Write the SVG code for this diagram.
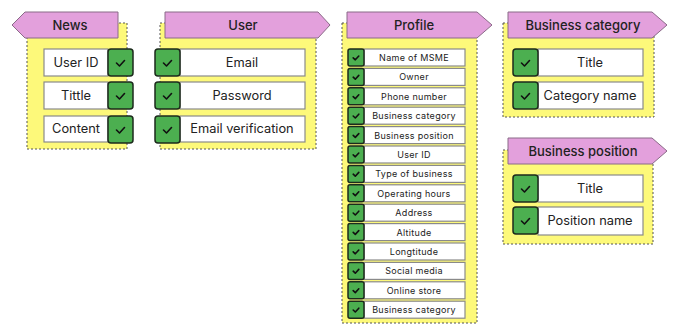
<svg xmlns="http://www.w3.org/2000/svg" width="676" height="325" viewBox="0 0 676 325">
  <defs>
    <style>
      .panel { fill: #fdf97a; stroke: #555; stroke-width: 1; stroke-dasharray: 2 2; }
      .head { fill: #e3a0dc; stroke: #8a6a88; stroke-width: 1; }
      .htxt { font-family: Inter, "Liberation Sans", sans-serif; font-size: 13px; font-weight: 500; fill: #222; text-anchor: middle; }
      .lbl { fill: #fff; stroke: #8a8a8a; stroke-width: 1.2; }
      .ltxt { font-family: Inter, "Liberation Sans", sans-serif; font-size: 12.8px; fill: #222; text-anchor: middle; }
      .stxt { font-family: Inter, "Liberation Sans", sans-serif; font-size: 9px; fill: #222; text-anchor: middle; letter-spacing: 0.3px; }
      .chk { fill: #4caf50; stroke: #1c2a1c; stroke-width: 1.5; }
      .tick { fill: none; stroke: #111; stroke-width: 1.6; stroke-linecap: round; stroke-linejoin: round; }
    </style>
    <!-- check boxes with tick, large and small -->
    <g id="chkL">
      <rect class="chk" x="0" y="0" width="25" height="27" rx="3"/>
      <path class="tick" d="M8.5 14 L11.5 17 L16.5 11.5"/>
    </g>
    <g id="chkS">
      <rect class="chk" x="0" y="0" width="16" height="17" rx="2"/>
      <path class="tick" d="M5.2 8.8 L7.3 10.8 L10.8 7" stroke-width="1.3"/>
    </g>
  </defs>

  <g id="connectors"/>

  <!-- News -->
  <g id="news">
    <rect class="panel" x="27" y="23" width="100" height="126"/>
    <polygon class="head" points="12,25 25,12 118,12 118,38 25,38"/>
    <text class="htxt" x="70" y="30">News</text>
    <rect class="lbl" x="44" y="49" width="64" height="27"/>
    <text class="ltxt" x="76" y="67">User ID</text>
    <use href="#chkL" x="108" y="49"/>
    <rect class="lbl" x="44" y="82" width="64" height="27"/>
    <text class="ltxt" x="76" y="100">Tittle</text>
    <use href="#chkL" x="108" y="82"/>
    <rect class="lbl" x="44" y="116" width="64" height="26"/>
    <text class="ltxt" x="76" y="133">Content</text>
    <use href="#chkL" x="108" y="116"/>
  </g>

  <!-- User -->
  <g id="user">
    <rect class="panel" x="160" y="23" width="156" height="126"/>
    <polygon class="head" points="165,12 318,12 330,25 318,38 165,38"/>
    <text class="htxt" x="243" y="30">User</text>
    <rect class="lbl" x="180" y="49" width="125" height="27"/>
    <text class="ltxt" x="242" y="67">Email</text>
    <use href="#chkL" x="155" y="49"/>
    <rect class="lbl" x="180" y="82" width="125" height="27"/>
    <text class="ltxt" x="242" y="100">Password</text>
    <use href="#chkL" x="155" y="82"/>
    <rect class="lbl" x="180" y="116" width="125" height="26"/>
    <text class="ltxt" x="242" y="133">Email verification</text>
    <use href="#chkL" x="155" y="116"/>
  </g>

  <!-- Profile -->
  <g id="profile">
    <rect class="panel" x="342" y="23" width="135" height="300"/>
    <polygon class="head" points="347,12 477,12 492,25 477,38 347,38"/>
    <text class="htxt" x="414" y="30">Profile</text>
    <g>
      <rect class="lbl" x="364" y="49" width="101" height="17"/><use href="#chkS" x="348" y="49"/>
      <text class="stxt" x="414" y="61">Name of MSME</text>
      <rect class="lbl" x="364" y="68.4" width="101" height="17"/><use href="#chkS" x="348" y="68.4"/>
      <text class="stxt" x="414" y="80.4">Owner</text>
      <rect class="lbl" x="364" y="87.8" width="101" height="17"/><use href="#chkS" x="348" y="87.8"/>
      <text class="stxt" x="414" y="99.8">Phone number</text>
      <rect class="lbl" x="364" y="107.2" width="101" height="17"/><use href="#chkS" x="348" y="107.2"/>
      <text class="stxt" x="414" y="119.2">Business category</text>
      <rect class="lbl" x="364" y="126.6" width="101" height="17"/><use href="#chkS" x="348" y="126.6"/>
      <text class="stxt" x="414" y="138.6">Business position</text>
      <rect class="lbl" x="364" y="146" width="101" height="17"/><use href="#chkS" x="348" y="146"/>
      <text class="stxt" x="414" y="158">User ID</text>
      <rect class="lbl" x="364" y="165.4" width="101" height="17"/><use href="#chkS" x="348" y="165.4"/>
      <text class="stxt" x="414" y="177.4">Type of business</text>
      <rect class="lbl" x="364" y="184.8" width="101" height="17"/><use href="#chkS" x="348" y="184.8"/>
      <text class="stxt" x="414" y="196.8">Operating hours</text>
      <rect class="lbl" x="364" y="204.2" width="101" height="17"/><use href="#chkS" x="348" y="204.2"/>
      <text class="stxt" x="414" y="216.2">Address</text>
      <rect class="lbl" x="364" y="223.6" width="101" height="17"/><use href="#chkS" x="348" y="223.6"/>
      <text class="stxt" x="414" y="235.6">Altitude</text>
      <rect class="lbl" x="364" y="243" width="101" height="17"/><use href="#chkS" x="348" y="243"/>
      <text class="stxt" x="414" y="255">Longtitude</text>
      <rect class="lbl" x="364" y="262.4" width="101" height="17"/><use href="#chkS" x="348" y="262.4"/>
      <text class="stxt" x="414" y="274.4">Social media</text>
      <rect class="lbl" x="364" y="281.8" width="101" height="17"/><use href="#chkS" x="348" y="281.8"/>
      <text class="stxt" x="414" y="293.8">Online store</text>
      <rect class="lbl" x="364" y="301.2" width="101" height="17"/><use href="#chkS" x="348" y="301.2"/>
      <text class="stxt" x="414" y="313.2">Business category</text>
    </g>
  </g>

  <!-- Business category -->
  <g id="business-category">
    <rect class="panel" x="503" y="23" width="151" height="94"/>
    <polygon class="head" points="508,12 652,12 667,25 652,38 508,38"/>
    <text class="htxt" x="583" y="30">Business category</text>
    <rect class="lbl" x="538" y="49" width="105" height="27"/>
    <text class="ltxt" x="590" y="67">Title</text>
    <use href="#chkL" x="513" y="49"/>
    <rect class="lbl" x="538" y="82" width="105" height="27"/>
    <text class="ltxt" x="590" y="100">Category name</text>
    <use href="#chkL" x="513" y="82"/>
  </g>

  <!-- Business position -->
  <g id="business-position">
    <rect class="panel" x="503" y="150" width="150" height="94"/>
    <polygon class="head" points="508,138 652,138 667,151 652,164 508,164"/>
    <text class="htxt" x="583" y="156">Business position</text>
    <rect class="lbl" x="538" y="175" width="105" height="27"/>
    <text class="ltxt" x="590" y="193">Title</text>
    <use href="#chkL" x="513" y="175"/>
    <rect class="lbl" x="538" y="207" width="105" height="28"/>
    <text class="ltxt" x="590" y="225">Position name</text>
    <use href="#chkL" x="513" y="207"/>
  </g>
</svg>
